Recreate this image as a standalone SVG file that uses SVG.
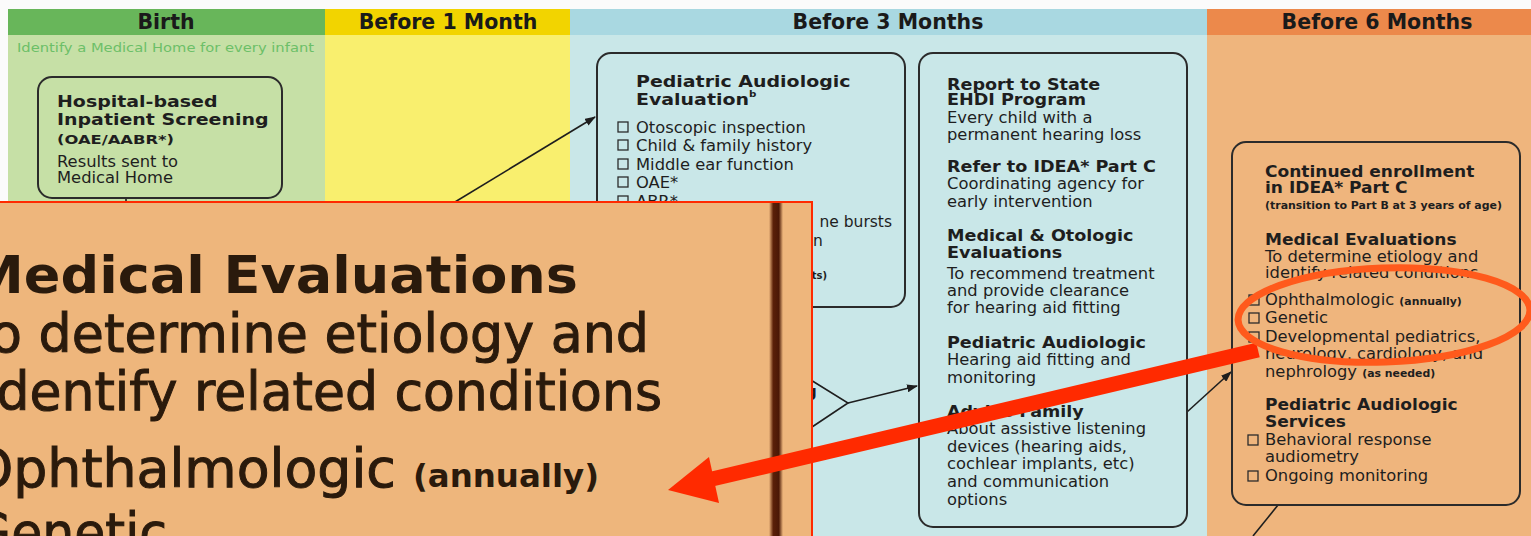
<svg xmlns="http://www.w3.org/2000/svg" width="1531" height="536" viewBox="0 0 1531 536">
<defs>
<style>
text{font-family:"DejaVu Sans","Liberation Sans",sans-serif;fill:#1e1e1e}
.h,.h17,.h19,.b{transform-box:fill-box;transform-origin:0 50%}
.h{font-weight:bold;font-size:16px;transform:scaleX(1.1)}
.h17{font-weight:bold;font-size:15.5px;transform:scaleX(1.1)}
.h19{font-weight:bold;font-size:16.5px;transform:scaleX(1.15)}
.b{font-size:15px;transform:scaleX(1.09)}
.sm{font-weight:bold;font-size:10px}
.col{font-weight:bold;font-size:20.5px;text-anchor:middle;fill:#1a1a1a}
.box{fill:none;stroke:#2b2b2b;stroke-width:2}
.cb{fill:none;stroke:#2b2b2b;stroke-width:1.3}
.conn{fill:none;stroke:#1e1e1e;stroke-width:1.6}
.big{font-size:53px;fill:#2a1a0c;stroke:#2a1a0c;stroke-width:1}
.bigb{font-size:51px;font-weight:bold;fill:#2a1a0c}
</style>
<marker id="ah" markerWidth="11" markerHeight="8" refX="10" refY="4" orient="auto" markerUnits="userSpaceOnUse"><path d="M0,0 L11,4 L0,8 z" fill="#1e1e1e"/></marker>
<linearGradient id="brown" x1="0" x2="1" y1="0" y2="0">
<stop offset="0" stop-color="#eeb67c"/>
<stop offset="0.3" stop-color="#5a2008"/>
<stop offset="0.7" stop-color="#4a1806"/>
<stop offset="1" stop-color="#eeb67c"/>
</linearGradient>
</defs>

<g id="background">
<rect x="0" y="0" width="1531" height="536" fill="#fbfbfb"/>
<rect x="8" y="9" width="317" height="527" fill="#c6e0a6"/>
<rect x="325" y="9" width="245" height="527" fill="#f9ef6e"/>
<rect x="570" y="9" width="637" height="527" fill="#c9e7e8"/>
<rect x="1207" y="9" width="324" height="527" fill="#efb57d"/>
<rect x="8" y="9" width="317" height="26" fill="#68b65a"/>
<rect x="325" y="9" width="245" height="26" fill="#f2d400"/>
<rect x="570" y="9" width="637" height="26" fill="#a9d8e1"/>
<rect x="1207" y="9" width="324" height="26" fill="#ec894b"/>
<text class="col" x="166" y="29">Birth</text>
<text class="col" x="448" y="29">Before 1 Month</text>
<text class="col" x="888" y="29">Before 3 Months</text>
<text class="col" x="1377" y="29">Before 6 Months</text>
<text x="17" y="52" style="font-size:11.5px;fill:#6cbf68" textLength="297" lengthAdjust="spacingAndGlyphs">Identify a Medical Home for every infant</text>
</g>

<g id="connectors">
<line class="conn" x1="126" y1="198" x2="126" y2="205"/>
<line class="conn" x1="450" y1="205" x2="595" y2="117" marker-end="url(#ah)"/>
<polyline class="conn" points="806,377 848,403 806,431"/>
<line class="conn" x1="848" y1="403" x2="917" y2="386" marker-end="url(#ah)"/>
<line class="conn" x1="1187" y1="412" x2="1231" y2="372" marker-end="url(#ah)"/>
<line class="conn" x1="1278" y1="505" x2="1253" y2="536"/>
</g>

<g id="hospital-screening">
<rect class="box" x="38" y="77" width="244" height="121" rx="14"/>
<text class="h19" x="57" y="107">Hospital-based</text>
<text class="h19" x="57" y="125">Inpatient Screening</text>
<text x="57" y="144" style="font-weight:bold;font-size:12.5px" textLength="117" lengthAdjust="spacingAndGlyphs">(OAE/AABR*)</text>
<text class="b" x="57" y="167">Results sent to</text>
<text class="b" x="57" y="183">Medical Home</text>
</g>

<g id="pediatric-evaluation">
<rect class="box" x="597" y="53" width="308" height="254" rx="14"/>
<text class="h19" x="636" y="87">Pediatric Audiologic</text>
<text class="h19" x="636" y="105">Evaluation<tspan style="font-size:9px" dy="-8">b</tspan></text>
<rect class="cb" x="618" y="122" width="10" height="10"/>
<text class="b" x="636" y="133">Otoscopic inspection</text>
<rect class="cb" x="618" y="140" width="10" height="10"/>
<text class="b" x="636" y="151">Child &amp; family history</text>
<rect class="cb" x="618" y="159" width="10" height="10"/>
<text class="b" x="636" y="170">Middle ear function</text>
<rect class="cb" x="618" y="177" width="10" height="10"/>
<text class="b" x="636" y="188">OAE*</text>
<rect class="cb" x="618" y="196" width="10" height="10"/>
<text class="b" x="636" y="207">ABR*</text>
<text x="892" y="227" text-anchor="end" style="font-size:15.5px">ne bursts</text>
<text x="813" y="246" style="font-size:15.5px">n</text>
<text class="sm" x="827" y="279" text-anchor="end">ts)</text>
<text x="806" y="397" style="font-weight:bold;font-size:15px">g</text>
</g>

<g id="report-state">
<rect class="box" x="919" y="53" width="268" height="474" rx="14"/>
<text class="h" x="947" y="90">Report to State</text>
<text class="h" x="947" y="105">EHDI Program</text>
<text class="b" x="947" y="123">Every child with a</text>
<text class="b" x="947" y="140">permanent hearing loss</text>
<text class="h" x="947" y="172">Refer to IDEA* Part C</text>
<text class="b" x="947" y="189">Coordinating agency for</text>
<text class="b" x="947" y="207">early intervention</text>
<text class="h" x="947" y="241">Medical &amp; Otologic</text>
<text class="h" x="947" y="258">Evaluations</text>
<text class="b" x="947" y="279">To recommend treatment</text>
<text class="b" x="947" y="296">and provide clearance</text>
<text class="b" x="947" y="313">for hearing aid fitting</text>
<text class="h" x="947" y="348">Pediatric Audiologic</text>
<text class="b" x="947" y="365">Hearing aid fitting and</text>
<text class="b" x="947" y="383">monitoring</text>
<text class="h" x="947" y="417">Advise Family</text>
<text class="b" x="947" y="434">About assistive listening</text>
<text class="b" x="947" y="452">devices (hearing aids,</text>
<text class="b" x="947" y="469">cochlear implants, etc)</text>
<text class="b" x="947" y="487">and communication</text>
<text class="b" x="947" y="505">options</text>
</g>

<g id="continued-enrollment">
<rect class="box" x="1232" y="142" width="288" height="363" rx="14"/>
<text class="h17" x="1265" y="177">Continued enrollment</text>
<text class="h17" x="1265" y="193">in IDEA* Part C</text>
<text class="sm" x="1265" y="209" textLength="237" lengthAdjust="spacingAndGlyphs">(transition to Part B at 3 years of age)</text>
<text class="h17" x="1265" y="245">Medical Evaluations</text>
<text class="b" x="1265" y="262">To determine etiology and</text>
<text class="b" x="1265" y="278">identify related conditions</text>
<rect class="cb" x="1249" y="295" width="10" height="10"/>
<text class="b" x="1265" y="305">Ophthalmologic <tspan class="sm">(annually)</tspan></text>
<rect class="cb" x="1249" y="313" width="10" height="10"/>
<text class="b" x="1265" y="323">Genetic</text>
<rect class="cb" x="1249" y="332" width="10" height="10"/>
<text class="b" x="1265" y="342">Developmental pediatrics,</text>
<text class="b" x="1265" y="359">neurology, cardiology, and</text>
<text class="b" x="1265" y="377">nephrology <tspan class="sm">(as needed)</tspan></text>
<text class="h17" x="1265" y="410">Pediatric Audiologic</text>
<text class="h17" x="1265" y="427">Services</text>
<rect class="cb" x="1248" y="435" width="10" height="10"/>
<text class="b" x="1265" y="445">Behavioral response</text>
<text class="b" x="1265" y="462">audiometry</text>
<rect class="cb" x="1248" y="471" width="10" height="10"/>
<text class="b" x="1265" y="481">Ongoing monitoring</text>
</g>

<g id="magnified-inset">
<rect x="-2" y="202" width="814" height="340" fill="#eeb67c" stroke="#ff2a00" stroke-width="2"/>
<rect x="769" y="203" width="14" height="334" fill="url(#brown)"/>
<text class="bigb" x="-30" y="293" textLength="608" lengthAdjust="spacingAndGlyphs">Medical Evaluations</text>
<text class="big" x="-33" y="352" textLength="682" lengthAdjust="spacingAndGlyphs">To determine etiology and</text>
<text class="big" x="-18" y="410" textLength="680" lengthAdjust="spacingAndGlyphs">identify related conditions</text>
<text class="big" x="-29" y="487" textLength="628" lengthAdjust="spacingAndGlyphs">Ophthalmologic <tspan style="font-size:32px;font-weight:bold;stroke-width:0">(annually)</tspan></text>
<text class="big" x="-28" y="551" textLength="195" lengthAdjust="spacingAndGlyphs">Genetic</text>
</g>

<g id="annotation">
<line x1="1258" y1="350" x2="712" y2="479" stroke="#ff2a00" stroke-width="15"/>
<polygon points="668,490 709,457 719,503" fill="#ff2a00"/>
<ellipse cx="1384" cy="315" rx="146" ry="47" transform="rotate(-2 1384 315)" fill="none" stroke="#ff5a1c" stroke-width="7"/>
</g>
</svg>
